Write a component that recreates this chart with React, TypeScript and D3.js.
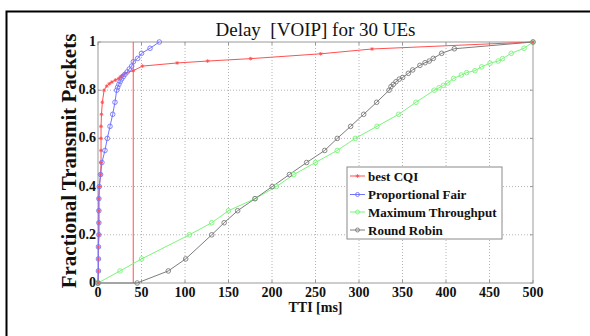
import React from "react";
import * as d3 from "d3";

const xTicks = [0, 50, 100, 150, 200, 250, 300, 350, 400, 450, 500];
const yTicks = [0, 0.2, 0.4, 0.6, 0.8, 1];
const yTickLabels = ["0", "0.2", "0.4", "0.6", "0.8", "1"];

const bestCQI: [number, number][] = [
  [0, 0], [0.5, 0.05], [0.5, 0.1], [0.5, 0.15], [1, 0.2], [1, 0.25], [1, 0.3], [1, 0.35],
  [1.5, 0.4], [3, 0.45], [3.5, 0.5], [3.5, 0.55], [3.5, 0.6], [3.5, 0.65], [4, 0.7], [5, 0.75],
  [7, 0.8], [10, 0.817], [13, 0.827], [16, 0.834], [20, 0.842], [24, 0.849], [26, 0.856],
  [28, 0.862], [31, 0.87], [40.6, 0.881], [51, 0.9], [91, 0.913], [126, 0.921], [175.5, 0.931],
  [256, 0.951], [315, 0.971], [500, 1.0],
];

const propFair: [number, number][] = [
  [0, 0], [0.5, 0.05], [0.5, 0.1], [0.5, 0.15], [1, 0.2], [1, 0.25], [1, 0.3], [1, 0.35],
  [1.5, 0.4], [3, 0.45], [4.5, 0.5], [8, 0.55], [10.7, 0.6], [13.8, 0.65], [16.9, 0.7],
  [19.5, 0.75], [21.5, 0.8], [22.5, 0.812], [24, 0.824], [25.5, 0.836], [27, 0.846],
  [29, 0.856], [31, 0.866], [33.5, 0.876], [36, 0.888], [38.7, 0.9], [40.6, 0.918],
  [45.6, 0.932], [50, 0.953], [59.8, 0.974], [70.5, 1.0],
];

const maxThroughput: [number, number][] = [
  [0, 0], [25.3, 0.05], [50.2, 0.1], [105, 0.2], [130.7, 0.25], [150, 0.3], [180.5, 0.35],
  [205, 0.4], [225, 0.45], [250, 0.5], [275, 0.55], [295.7, 0.6], [320.7, 0.65], [345.6, 0.7],
  [365.5, 0.75], [386.5, 0.8], [392, 0.81], [397, 0.82], [402, 0.83], [408.8, 0.849],
  [417.6, 0.863], [423.7, 0.873], [433.3, 0.881], [441, 0.897], [450.6, 0.912], [460, 0.921],
  [465, 0.931], [475, 0.953], [489.7, 0.974], [500, 1.0],
];

const roundRobin: [number, number][] = [
  [0, 0], [45, 0], [80.8, 0.05], [100.8, 0.1], [130.7, 0.2], [145, 0.25], [160.5, 0.3],
  [180.5, 0.35], [200.3, 0.4], [220, 0.45], [239.8, 0.5], [260.6, 0.55], [275, 0.6],
  [290.4, 0.65], [305.4, 0.7], [320.3, 0.75], [334.6, 0.8], [336.8, 0.815], [339.4, 0.824],
  [342.5, 0.835], [346.3, 0.846], [350.2, 0.853], [356.7, 0.87], [361.7, 0.884], [370, 0.903],
  [375.9, 0.914], [380.8, 0.921], [385.4, 0.932], [395, 0.953], [409.6, 0.972], [500, 1.0],
];

const thresholdX = 40.5;

const seriesNames = ["best CQI", "Proportional Fair", "Maximum Throughput", "Round Robin"];
const seriesColors = ["#ff5050", "#7474ff", "#7cf47c", "#7c7c7c"];

const left = 98, right = 533, top = 42, bottom = 283;

function Star({ x, y, color }: { x: number; y: number; color: string }) {
  const s = 1.8;
  return (
    <g stroke={color} strokeWidth={0.9}>
      <line x1={x - s} y1={y} x2={x + s} y2={y} />
      <line x1={x} y1={y - s} x2={x} y2={y + s} />
      <line x1={x - s * 0.7} y1={y - s * 0.7} x2={x + s * 0.7} y2={y + s * 0.7} />
      <line x1={x - s * 0.7} y1={y + s * 0.7} x2={x + s * 0.7} y2={y - s * 0.7} />
    </g>
  );
}

export default function App() {
  const x = d3.scaleLinear().domain([0, 500]).range([left, right]);
  const y = d3.scaleLinear().domain([0, 1]).range([bottom, top]);
  const line = d3.line<[number, number]>().x((d) => x(d[0])).y((d) => y(d[1]));
  const data = [bestCQI, propFair, maxThroughput, roundRobin];
  const serif = "'Liberation Serif', 'Times New Roman', serif";

  const legX = 347, legY = 167, legW = 155, legH = 72;
  const legRows = [176, 194.5, 212, 230];

  return (
    <svg width={590} height={336} style={{ position: "absolute", left: 0, top: 0, background: "#fff" }}>
      <rect x={0} y={0} width={590} height={336} fill="#fff" />
      <rect x={6.5} y={11.5} width={620} height={400} fill="none" stroke="#000" strokeWidth={2} />
      {/* grid */}
      {xTicks.slice(1, -1).map((t) => (
        <line key={"gx" + t} x1={x(t)} x2={x(t)} y1={top} y2={bottom} stroke="#b4b4b4" strokeWidth={1} strokeDasharray="1,2" />
      ))}
      {yTicks.slice(1, -1).map((t) => (
        <line key={"gy" + t} x1={left} x2={right} y1={y(t)} y2={y(t)} stroke="#b4b4b4" strokeWidth={1} strokeDasharray="1,2" />
      ))}
      {/* axes box */}
      <rect x={left} y={top} width={right - left} height={bottom - top} fill="none" stroke="#9a9a9a" strokeWidth={1} />
      {xTicks.map((t) => (
        <g key={"tx" + t}>
          <line x1={x(t)} x2={x(t)} y1={bottom} y2={bottom - 3} stroke="#9a9a9a" />
          <line x1={x(t)} x2={x(t)} y1={top} y2={top + 3} stroke="#9a9a9a" />
        </g>
      ))}
      {yTicks.map((t) => (
        <g key={"ty" + t}>
          <line x1={left} x2={left + 3} y1={y(t)} y2={y(t)} stroke="#9a9a9a" />
          <line x1={right} x2={right - 3} y1={y(t)} y2={y(t)} stroke="#9a9a9a" />
        </g>
      ))}
      {/* tick labels */}
      {xTicks.map((t) => (
        <text key={"lx" + t} x={x(t)} y={bottom + 14} textAnchor="middle" fontFamily={serif} fontWeight="bold" fontSize={14} fill="#111">
          {t}
        </text>
      ))}
      {yTicks.map((t, i) => (
        <text key={"ly" + t} x={left - 2} y={y(t) + 4} textAnchor="end" fontFamily={serif} fontWeight="bold" fontSize={14} fill="#111">
          {yTickLabels[i]}
        </text>
      ))}
      {/* threshold */}
      <line x1={x(thresholdX)} x2={x(thresholdX)} y1={y(0)} y2={y(1)} stroke="#ff5050" strokeWidth={1} />
      {/* series */}
      {data.map((d, i) => (
        <path key={"s" + i} d={line(d) || ""} fill="none" stroke={seriesColors[i]} strokeWidth={1} />
      ))}
      {data.map((d, i) =>
        d.map((p, j) =>
          i === 0 ? (
            <Star key={"m" + i + "-" + j} x={x(p[0])} y={y(p[1])} color={seriesColors[i]} />
          ) : (
            <circle key={"m" + i + "-" + j} cx={x(p[0])} cy={y(p[1])} r={2.3} fill="none" stroke={seriesColors[i]} strokeWidth={0.9} />
          )
        )
      )}
      {/* titles */}
      <text x={(left + right) / 2} y={36} textAnchor="middle" fontFamily={serif} fontSize={19} fill="#111" style={{ whiteSpace: "pre" }}>
        {"Delay  [VOIP] for 30 UEs"}
      </text>
      <text x={(left + right) / 2} y={312} textAnchor="middle" fontFamily={serif} fontWeight="bold" fontSize={14} fill="#111">
        TTI [ms]
      </text>
      <text transform={`translate(76, 161) rotate(-90)`} textAnchor="middle" fontFamily={serif} fontWeight="bold" fontSize={21} fill="#111">
        Fractional Transmit Packets
      </text>
      {/* legend */}
      <rect x={legX} y={legY} width={legW} height={legH} fill="#fff" stroke="#8a8a8a" strokeWidth={1} />
      {seriesNames.map((n, i) => (
        <g key={"leg" + i}>
          <line x1={350} x2={365} y1={legRows[i]} y2={legRows[i]} stroke={seriesColors[i]} strokeWidth={1} />
          {i === 0 ? (
            <Star x={357.5} y={legRows[i]} color={seriesColors[i]} />
          ) : (
            <circle cx={357.5} cy={legRows[i]} r={2} fill="none" stroke={seriesColors[i]} strokeWidth={0.9} />
          )}
          <text x={368} y={legRows[i] + 4.5} fontFamily={serif} fontWeight="bold" fontSize={13} fill="#111">
            {n}
          </text>
        </g>
      ))}
    </svg>
  );
}
